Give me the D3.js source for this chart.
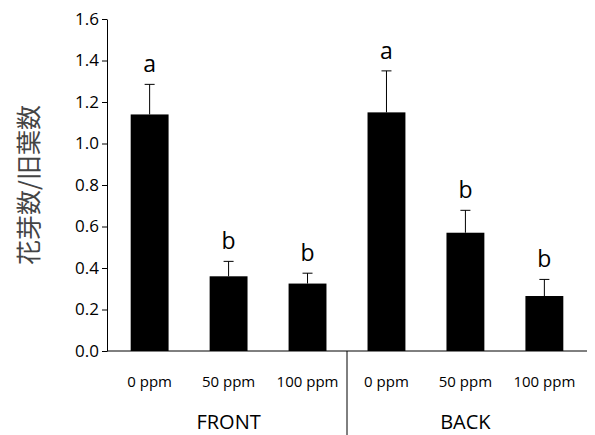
<!DOCTYPE html><html><head><meta charset="utf-8"><script src="https://d3js.org/d3.v7.min.js"></script>
<style>body{margin:0;background:#fff}text{font-family:"Open Sans","Liberation Sans",sans-serif}</style></head><body><svg width="595" height="435"></svg><script>
const categories=["0 ppm","50 ppm","100 ppm","0 ppm ","50 ppm ","100 ppm "];
const values=[1.14,0.36,0.325,1.15,0.57,0.265];
const errors=[0.145,0.072,0.05,0.2,0.108,0.08];
const letters=["a","b","b","a","b","b"];
const groups=["FRONT","BACK"];
const yTicks=[0,0.2,0.4,0.6,0.8,1.0,1.2,1.4,1.6];
const svg=d3.select("svg");
const L=107,R=587,T=19,B=351;
const x=d3.scaleBand().domain(categories).range([L,R]).paddingInner(0.52).paddingOuter(0.3);
const y=d3.scaleLinear().domain([0,1.6]).range([B,T]);
const ax=svg.append("g").attr("transform",`translate(${L},0)`).call(d3.axisLeft(y).tickValues(yTicks).tickFormat(d3.format(".1f")).tickSize(5).tickSizeOuter(0));
ax.selectAll("text").attr("font-size",17).attr("fill","#000");
ax.selectAll("line,path").attr("stroke","#000");
svg.append("line").attr("x1",L).attr("x2",R).attr("y1",B).attr("y2",B).attr("stroke","#000");
svg.selectAll(".bar").data(values).join("rect").attr("x",(d,i)=>x(categories[i])).attr("width",x.bandwidth()).attr("y",d=>y(d)).attr("height",d=>B-y(d)).attr("fill","#000");
const cx=i=>x(categories[i])+x.bandwidth()/2;
values.forEach((v,i)=>{
 svg.append("line").attr("x1",cx(i)).attr("x2",cx(i)).attr("y1",y(v)).attr("y2",y(v+errors[i])).attr("stroke","#000");
 svg.append("line").attr("x1",cx(i)-5).attr("x2",cx(i)+5).attr("y1",y(v+errors[i])).attr("y2",y(v+errors[i])).attr("stroke","#000");
 svg.append("text").attr("x",cx(i)).attr("y",y(v+errors[i])-12).attr("text-anchor","middle").attr("font-size",23).text(letters[i]);
 svg.append("text").attr("x",cx(i)).attr("y",387).attr("text-anchor","middle").attr("font-size",15).text(categories[i].trim());
});
const mid=(cx(2)+cx(3))/2;
svg.append("line").attr("x1",mid).attr("x2",mid).attr("y1",B).attr("y2",435).attr("stroke","#000");
svg.append("text").attr("x",cx(1)).attr("y",429).attr("text-anchor","middle").attr("font-size",20).text(groups[0]);
svg.append("text").attr("x",cx(4)).attr("y",429).attr("text-anchor","middle").attr("font-size",20).text(groups[1]);
svg.append("text").attr("transform",`translate(38,${(T+B)/2}) rotate(-90)`).attr("text-anchor","middle").attr("font-size",25).attr("fill","#444").style("font-family","Noto Sans CJK JP").text("花芽数/旧葉数");
</script></body></html>
